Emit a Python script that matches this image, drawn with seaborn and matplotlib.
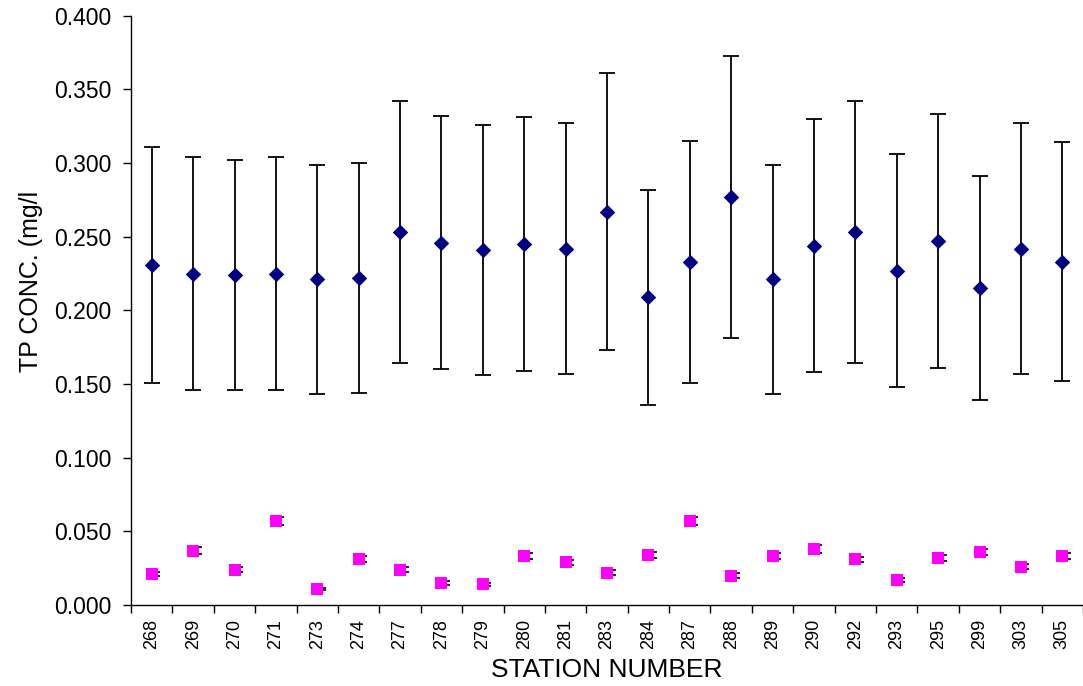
#!/usr/bin/env python3

# plot.py
#
# TP concentration by station: two series with error bars.
import matplotlib.pyplot as plt
import matplotlib.transforms as mtransforms
from matplotlib.ticker import FixedLocator, MultipleLocator, FormatStrFormatter
import pandas as pd
import seaborn as sns


STATIONS = ['268', '269', '270', '271', '273', '274', '277', '278', '279', '280', '281', '283',
            '284', '287', '288', '289', '290', '292', '293', '295', '299', '303', '305']

# upper series (navy diamonds): mean and +/- error
HIGH_MEAN = [0.231, 0.225, 0.224, 0.225, 0.221, 0.222, 0.253, 0.246, 0.241, 0.245, 0.242, 0.267,
             0.209, 0.233, 0.277, 0.221, 0.244, 0.253, 0.227, 0.247, 0.215, 0.242, 0.233]
HIGH_ERR = [0.080, 0.079, 0.078, 0.079, 0.078, 0.078, 0.089, 0.086, 0.085, 0.086, 0.085, 0.094,
            0.073, 0.082, 0.096, 0.078, 0.086, 0.089, 0.079, 0.086, 0.076, 0.085, 0.081]

# lower series (magenta squares): mean and +/- error
LOW_MEAN = [0.021, 0.037, 0.024, 0.057, 0.011, 0.031, 0.024, 0.015, 0.014, 0.033, 0.029, 0.022,
            0.034, 0.057, 0.020, 0.033, 0.038, 0.031, 0.017, 0.032, 0.036, 0.026, 0.033]
LOW_ERR = [0.0015, 0.0022, 0.0017, 0.0028, 0.0008, 0.0020, 0.0017, 0.0012, 0.0010, 0.0020, 0.0018,
           0.0015, 0.0020, 0.0028, 0.0016, 0.0020, 0.0025, 0.0018, 0.0014, 0.0020, 0.0022, 0.0017,
           0.0020]


def make_plot(output):
    data = pd.DataFrame({
        'station': STATIONS,
        'high': HIGH_MEAN, 'high_err': HIGH_ERR,
        'low': LOW_MEAN, 'low_err': LOW_ERR,
    })

    sns.set_style('white')
    plt.rcParams['font.family'] = ['Liberation Sans', 'DejaVu Sans']
    plt.rcParams['text.color'] = 'black'
    plt.rcParams['axes.labelcolor'] = 'black'
    plt.rcParams['xtick.color'] = 'black'
    plt.rcParams['ytick.color'] = 'black'

    fig = plt.figure(figsize=(10.83, 6.86), dpi=100)
    ax = fig.add_axes([0.121, 0.118, 0.879, 0.859])

    pos = list(range(len(STATIONS)))

    # error bars for the upper series
    ax.errorbar(pos, data['high'], yerr=data['high_err'], fmt='none', ecolor='black',
                elinewidth=1.3, capsize=6, capthick=1.3, zorder=2)

    # error bars for the lower series, drawn slightly to the right like the original
    shift = mtransforms.ScaledTranslation(4.5 / 100, 0, fig.dpi_scale_trans)
    ax.errorbar(pos, data['low'], yerr=data['low_err'], fmt='none', ecolor='black',
                elinewidth=1.2, capsize=3.2, capthick=1.2, zorder=2,
                transform=ax.transData + shift)

    sns.scatterplot(data=data, x='station', y='high', marker='D', s=62, color='#000080',
                    edgecolor='#000080', linewidth=0, ax=ax, zorder=3)
    sns.scatterplot(data=data, x='station', y='low', marker='s', s=78, color='#FF00FF',
                    edgecolor='#FF00FF', linewidth=0, ax=ax, zorder=3)

    # axes
    ax.set_xlim(-0.5, len(STATIONS) - 0.5)
    ax.set_ylim(0, 0.4)
    ax.yaxis.set_major_locator(MultipleLocator(0.05))
    ax.yaxis.set_major_formatter(FormatStrFormatter('%.3f'))

    ax.set_xticks(pos)
    ax.set_xticklabels(STATIONS, rotation=90)
    ax.xaxis.set_minor_locator(FixedLocator([p - 0.5 for p in pos] + [len(STATIONS) - 0.5]))
    ax.tick_params(axis='x', which='major', length=0, pad=10, labelsize=13)
    ax.tick_params(axis='x', which='minor', length=6, width=1, color='black', direction='out')
    ax.tick_params(axis='y', which='major', length=6, width=1, color='black', direction='out',
                   pad=8, labelsize=16.5)
    ax.tick_params(bottom=True, left=True, which='both')

    for side in ['top', 'right']:
        ax.spines[side].set_visible(False)
    for side in ['left', 'bottom']:
        ax.spines[side].set_color('black')
        ax.spines[side].set_linewidth(1)

    ax.set_xlabel('STATION NUMBER', fontsize=19, labelpad=6)
    ax.set_ylabel('TP CONC. (mg/l', fontsize=18)
    ax.yaxis.set_label_coords(-0.093, 0.55)
    ax.grid(False)

    fig.savefig(output, dpi=100)
    print('Saved {}...'.format(output))
    plt.close()


if __name__ == '__main__':
    make_plot('out.png')
